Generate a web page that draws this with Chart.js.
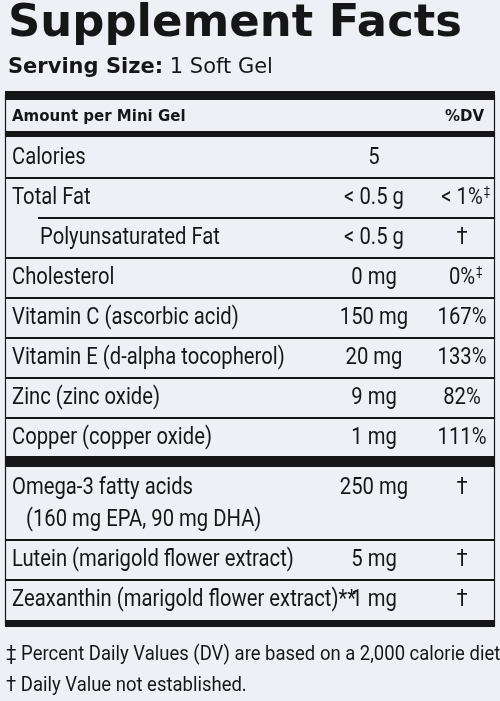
<!DOCTYPE html>
<html>
<head>
<meta charset="utf-8">
<script src="https://cdn.jsdelivr.net/npm/chart.js@4"></script>
<style>
html,body{margin:0;padding:0;background:#eef0f5;}
#wrap{width:500px;height:701px;}
</style>
</head>
<body>
<div id="wrap"><canvas id="label"></canvas></div>
<script>
const title = 'Supplement Facts';
const servingLabel = 'Serving Size:';
const servingValue = ' 1 Soft Gel';
const headerLeft = 'Amount per Mini Gel';
const headerRight = '%DV';
const nutrients = ['Calories', 'Total Fat', 'Polyunsaturated Fat', 'Cholesterol', 'Vitamin C (ascorbic acid)', 'Vitamin E (d-alpha tocopherol)', 'Zinc (zinc oxide)', 'Copper (copper oxide)', 'Omega-3 fatty acids', 'Lutein (marigold flower extract)', 'Zeaxanthin (marigold flower extract)**'];
const subLines = ['', '', '', '', '', '', '', '', '(160 mg EPA, 90 mg DHA)', '', ''];
const amounts = ['5', '< 0.5 g', '< 0.5 g', '0 mg', '150 mg', '20 mg', '9 mg', '1 mg', '250 mg', '5 mg', '1 mg'];
const dvs = ['', '< 1%', '†', '0%', '167%', '133%', '82%', '111%', '†', '†', '†'];
const dvMarks = ['', '‡', '', '‡', '', '', '', '', '', '', ''];
const indents = [0, 0, 1, 0, 0, 0, 0, 0, 0, 0, 0];
const rowCenters = [158, 198, 238, 278, 318, 358, 398, 438, 488, 560, 600];
// line below each row: 1 thin, 2 thick
const rowRules = [1, 1, 1, 1, 1, 1, 1, 2, 1, 1, 2];
const footnotes = ['‡ Percent Daily Values (DV) are based on a 2,000 calorie diet.', '† Daily Value not established.'];

const ink = '#161616';
const body = '"Roboto", sans-serif';
const squeeze = 0.88;

// draw horizontally condensed text
function narrowText(ctx, text, x, y, align) {
    ctx.save();
    ctx.translate(x, y);
    ctx.scale(squeeze, 1);
    ctx.textAlign = align || 'left';
    ctx.fillText(text, 0, 0);
    ctx.restore();
}

const labelPlugin = {
    id: 'labelPlugin',
    afterDraw(chart) {
        const ctx = chart.ctx;
        const ys = chart.scales.y;
        const Y = v => ys.getPixelForValue(v);
        ctx.save();
        ctx.fillStyle = ink;
        ctx.strokeStyle = ink;
        ctx.textBaseline = 'middle';

        ctx.font = 'bold 45px "DejaVu Sans", sans-serif';
        ctx.save();
        ctx.translate(8, Y(24));
        ctx.scale(454 / ctx.measureText(title).width, 1);
        ctx.fillText(title, 0, 0);
        ctx.restore();
        ctx.font = 'bold 21px "DejaVu Sans", sans-serif';
        ctx.fillText(servingLabel, 8, Y(68));
        const w = ctx.measureText(servingLabel).width;
        ctx.font = '21px "DejaVu Sans", sans-serif';
        ctx.fillText(servingValue, 8 + w, Y(68));

        ctx.fillRect(5, Y(91), 490, 9);
        ctx.lineWidth = 1.2;
        ctx.beginPath();
        ctx.moveTo(5.5, Y(95)); ctx.lineTo(5.5, Y(626));
        ctx.moveTo(494.5, Y(95)); ctx.lineTo(494.5, Y(626));
        ctx.stroke();

        ctx.font = 'bold 15px "DejaVu Sans", sans-serif';
        ctx.fillText(headerLeft, 12, Y(117));
        ctx.textAlign = 'right';
        ctx.fillText(headerRight, 484, Y(117));
        ctx.textAlign = 'left';
        ctx.fillRect(5, Y(131), 490, 6);

        nutrients.forEach((name, i) => {
            const cy = Y(rowCenters[i]);
            ctx.font = '23px ' + body;
            narrowText(ctx, name, indents[i] ? 40 : 12, cy, 'left');
            if (subLines[i]) narrowText(ctx, subLines[i], 26, cy + 32, 'left');
            narrowText(ctx, amounts[i], 374, cy, 'center');
            narrowText(ctx, dvs[i], 462, cy, 'center');
            if (dvMarks[i]) {
                const dw = ctx.measureText(dvs[i]).width * squeeze;
                ctx.font = '13px ' + body;
                narrowText(ctx, dvMarks[i], 462 + dw / 2 + 1, cy - 6, 'left');
            }
            const lineY = i === 8 ? Y(540) : cy + 20;
            if (rowRules[i] === 2) {
                ctx.fillRect(5, i === 7 ? Y(456) : Y(620), 490, i === 7 ? 11 : 7);
            } else {
                const x0 = i === 1 ? 38 : 5;
                ctx.fillRect(x0, lineY - 1, 495 - x0, 2);
            }
        });

        ctx.font = '21px ' + body;
        narrowText(ctx, footnotes[0], 6, Y(655), 'left');
        narrowText(ctx, footnotes[1], 6, Y(686), 'left');
        ctx.restore();
    }
};

new Chart(document.getElementById('label').getContext('2d'), {
    type: 'scatter',
    data: { datasets: [{ data: [] }] },
    options: {
        responsive: true,
        maintainAspectRatio: false,
        animation: false,
        layout: { padding: 0 },
        scales: {
            x: { display: false, min: 0, max: 500 },
            y: { display: false, min: 0, max: 701, reverse: true }
        },
        plugins: { legend: { display: false }, tooltip: { enabled: false } }
    },
    plugins: [labelPlugin]
});
</script>
</body>
</html>
